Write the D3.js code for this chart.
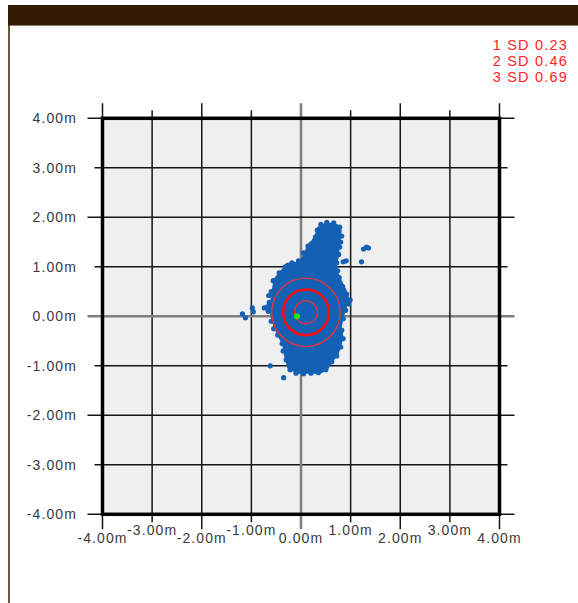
<!DOCTYPE html>
<html>
<head>
<meta charset="utf-8">
<script src="https://cdn.jsdelivr.net/npm/d3@7"></script>
<style>
  html, body { margin: 0; padding: 0; background: #fff; }
  svg { display: block; }
</style>
</head>
<body>
<svg id="chart" width="578" height="603"></svg>
<script>
// Axis ticks (metres) and their labels
const tickValues = [-4, -3, -2, -1, 0, 1, 2, 3, 4];
const tickLabels = ["-4.00m", "-3.00m", "-2.00m", "-1.00m", "0.00m", "1.00m", "2.00m", "3.00m", "4.00m"];

// Spread statistics (radius in metres)
const sdNames = ["1 SD", "2 SD", "3 SD"];
const sdRadii = [0.23, 0.46, 0.69];
const groupCenter = [0.10, 0.08];
const aimPoint = [-0.08, 0.00];

// Outline of the dense body of shots (x, y in metres)
const cloudOutline = [
  [0.79, 1.73], [0.76, 1.46], [0.73, 1.19], [0.69, 1.05], [0.73, 0.85], [0.79, 0.72],
  [0.89, 0.52], [0.96, 0.31], [0.89, 0.18], [0.83, -0.02], [0.79, -0.22], [0.83, -0.43],
  [0.79, -0.56], [0.73, -0.76], [0.59, -0.93], [0.52, -1.06], [0.39, -1.13], [-0.08, -1.13],
  [-0.25, -1.03], [-0.32, -0.76], [-0.35, -0.56], [-0.42, -0.43], [-0.52, -0.22], [-0.58, -0.02],
  [-0.62, 0.18], [-0.58, 0.38], [-0.55, 0.58], [-0.52, 0.75], [-0.35, 0.95], [-0.28, 1.05],
  [-0.01, 1.07], [0.08, 1.26], [0.17, 1.46], [0.24, 1.52], [0.30, 1.62], [0.36, 1.79],
  [0.46, 1.85], [0.59, 1.86], [0.73, 1.83]
];

// Individual shots along the edge of the group and the stray ones
const shotX = [
  0.40, 0.52, 0.66, 0.78, 0.33, 0.29, 0.82, 0.80,
  0.14, 0.05, -0.05, -0.18, -0.32, -0.44, -0.56,
  -0.60, -0.64, -0.66, -0.60, -0.55, -0.47,
  -0.38, -0.36, -0.30, -0.22, -0.10,
  0.05, 0.20, 0.35, 0.50,
  0.62, 0.72, 0.80, 0.85, 0.82,
  0.85, 0.90, 0.96, 0.99, 0.92, 0.84, 0.77, 0.74, 0.72, 0.76, 0.78,
  1.26, 1.32, 1.36, 0.85, 0.91, 1.22,
  -1.18, -1.12, -0.98, -0.96, -0.74, -0.68, -0.62, -0.35, -0.65
];
const shotY = [
  1.86, 1.90, 1.89, 1.80, 1.74, 1.60, 1.62, 1.50,
  1.42, 1.28, 1.12, 1.08, 1.00, 0.88, 0.72,
  0.50, 0.28, 0.10, -0.10, -0.25, -0.38,
  -0.55, -0.70, -0.88, -1.08, -1.15,
  -1.16, -1.15, -1.14, -1.08,
  -0.92, -0.80, -0.62, -0.45, -0.28,
  -0.05, 0.12, 0.25, 0.33, 0.45, 0.60, 0.78, 0.92, 1.08, 1.25, 1.40,
  1.36, 1.40, 1.38, 1.10, 1.12, 1.10,
  0.05, -0.03, 0.17, 0.09, 0.17, 0.19, -1.00, -1.24, 0.42
];

const svg = d3.select("#chart");

// Page frame: dark header band and left rule
svg.append("rect").attr("x", 8).attr("y", 5).attr("width", 570).attr("height", 20).attr("fill", "#341c02");
svg.append("line").attr("x1", 8).attr("x2", 578).attr("y1", 25.5).attr("y2", 25.5)
  .attr("stroke", "#8a7c70").attr("stroke-width", 1);
svg.append("line").attr("x1", 9).attr("x2", 9).attr("y1", 25).attr("y2", 603)
  .attr("stroke", "#4a2c0a").attr("stroke-width", 1.6);

const plot = { left: 102.5, right: 499.5, top: 118.3, bottom: 514.3 };
const x = d3.scaleLinear().domain([-4, 4]).range([plot.left, plot.right]);
const y = d3.scaleLinear().domain([-4, 4]).range([plot.bottom, plot.top]);

// Target background
svg.append("rect")
  .attr("x", plot.left).attr("y", plot.top)
  .attr("width", plot.right - plot.left).attr("height", plot.bottom - plot.top)
  .attr("fill", "#efefef");

// Grid lines, running past the frame as ticks (long on even metres, short on odd)
const tickLen = v => (v % 2 === 0 ? 15 : 8);
const grid = svg.append("g");
tickValues.forEach(v => {
  const zero = v === 0;
  grid.append("line")
    .attr("x1", x(v)).attr("x2", x(v))
    .attr("y1", plot.top - tickLen(v)).attr("y2", plot.bottom + tickLen(v))
    .attr("stroke", zero ? "#808080" : "#151515").attr("stroke-width", zero ? 2.6 : 1.5);
  grid.append("line")
    .attr("y1", y(v)).attr("y2", y(v))
    .attr("x1", plot.left - tickLen(v)).attr("x2", plot.right + tickLen(v))
    .attr("stroke", zero ? "#808080" : "#151515").attr("stroke-width", zero ? 2.6 : 1.5);
});

// Frame
svg.append("rect")
  .attr("x", plot.left).attr("y", plot.top)
  .attr("width", plot.right - plot.left).attr("height", plot.bottom - plot.top)
  .attr("fill", "none").attr("stroke", "#000").attr("stroke-width", 3.5);

// Axis labels
const labelFont = "'Liberation Sans', Arial, sans-serif";
svg.append("g").selectAll("text").data(tickValues).join("text")
  .attr("x", d => x(d))
  .attr("y", d => (d % 2 === 0 ? 543 : 535))
  .attr("text-anchor", "middle")
  .attr("font-family", labelFont).attr("font-size", 14).attr("letter-spacing", 1.1)
  .attr("fill", "#3a3a3a")
  .text((d, i) => tickLabels[i]);
svg.append("g").selectAll("text").data(tickValues).join("text")
  .attr("x", 77)
  .attr("y", d => y(d) + 5)
  .attr("text-anchor", "end")
  .attr("font-family", labelFont).attr("font-size", 14).attr("letter-spacing", 1.1)
  .attr("fill", "#3a3a3a")
  .text((d, i) => tickLabels[i]);

// Shot group
const blue = "#1360b4";
svg.append("path")
  .attr("d", d3.line().x(d => x(d[0])).y(d => y(d[1])).curve(d3.curveLinearClosed)(cloudOutline))
  .attr("fill", blue).attr("stroke", blue).attr("stroke-width", 3).attr("stroke-linejoin", "round");
svg.append("g").selectAll("circle").data(shotX).join("circle")
  .attr("cx", d => x(d)).attr("cy", (d, i) => y(shotY[i]))
  .attr("r", 2.6).attr("fill", blue);

// Standard deviation rings
svg.append("g").selectAll("circle").data(sdRadii).join("circle")
  .attr("cx", x(groupCenter[0])).attr("cy", y(groupCenter[1]))
  .attr("r", d => x(d) - x(0))
  .attr("fill", "none")
  .attr("stroke", (d, i) => (i === 1 ? "#ff0a0a" : "#f03030"))
  .attr("stroke-width", (d, i) => (i === 1 ? 2.6 : 1.3));

// Point of aim
svg.append("circle").attr("cx", x(aimPoint[0])).attr("cy", y(aimPoint[1])).attr("r", 3).attr("fill", "#22e622");

// Legend
svg.append("g").selectAll("text").data(sdRadii).join("text")
  .attr("x", 568).attr("y", (d, i) => 50 + i * 15.8)
  .attr("text-anchor", "end")
  .attr("font-family", labelFont).attr("font-size", 14.5).attr("letter-spacing", 1.2)
  .attr("fill", "#ff2424")
  .text((d, i) => sdNames[i] + " " + d.toFixed(2));
</script>
</body>
</html>
